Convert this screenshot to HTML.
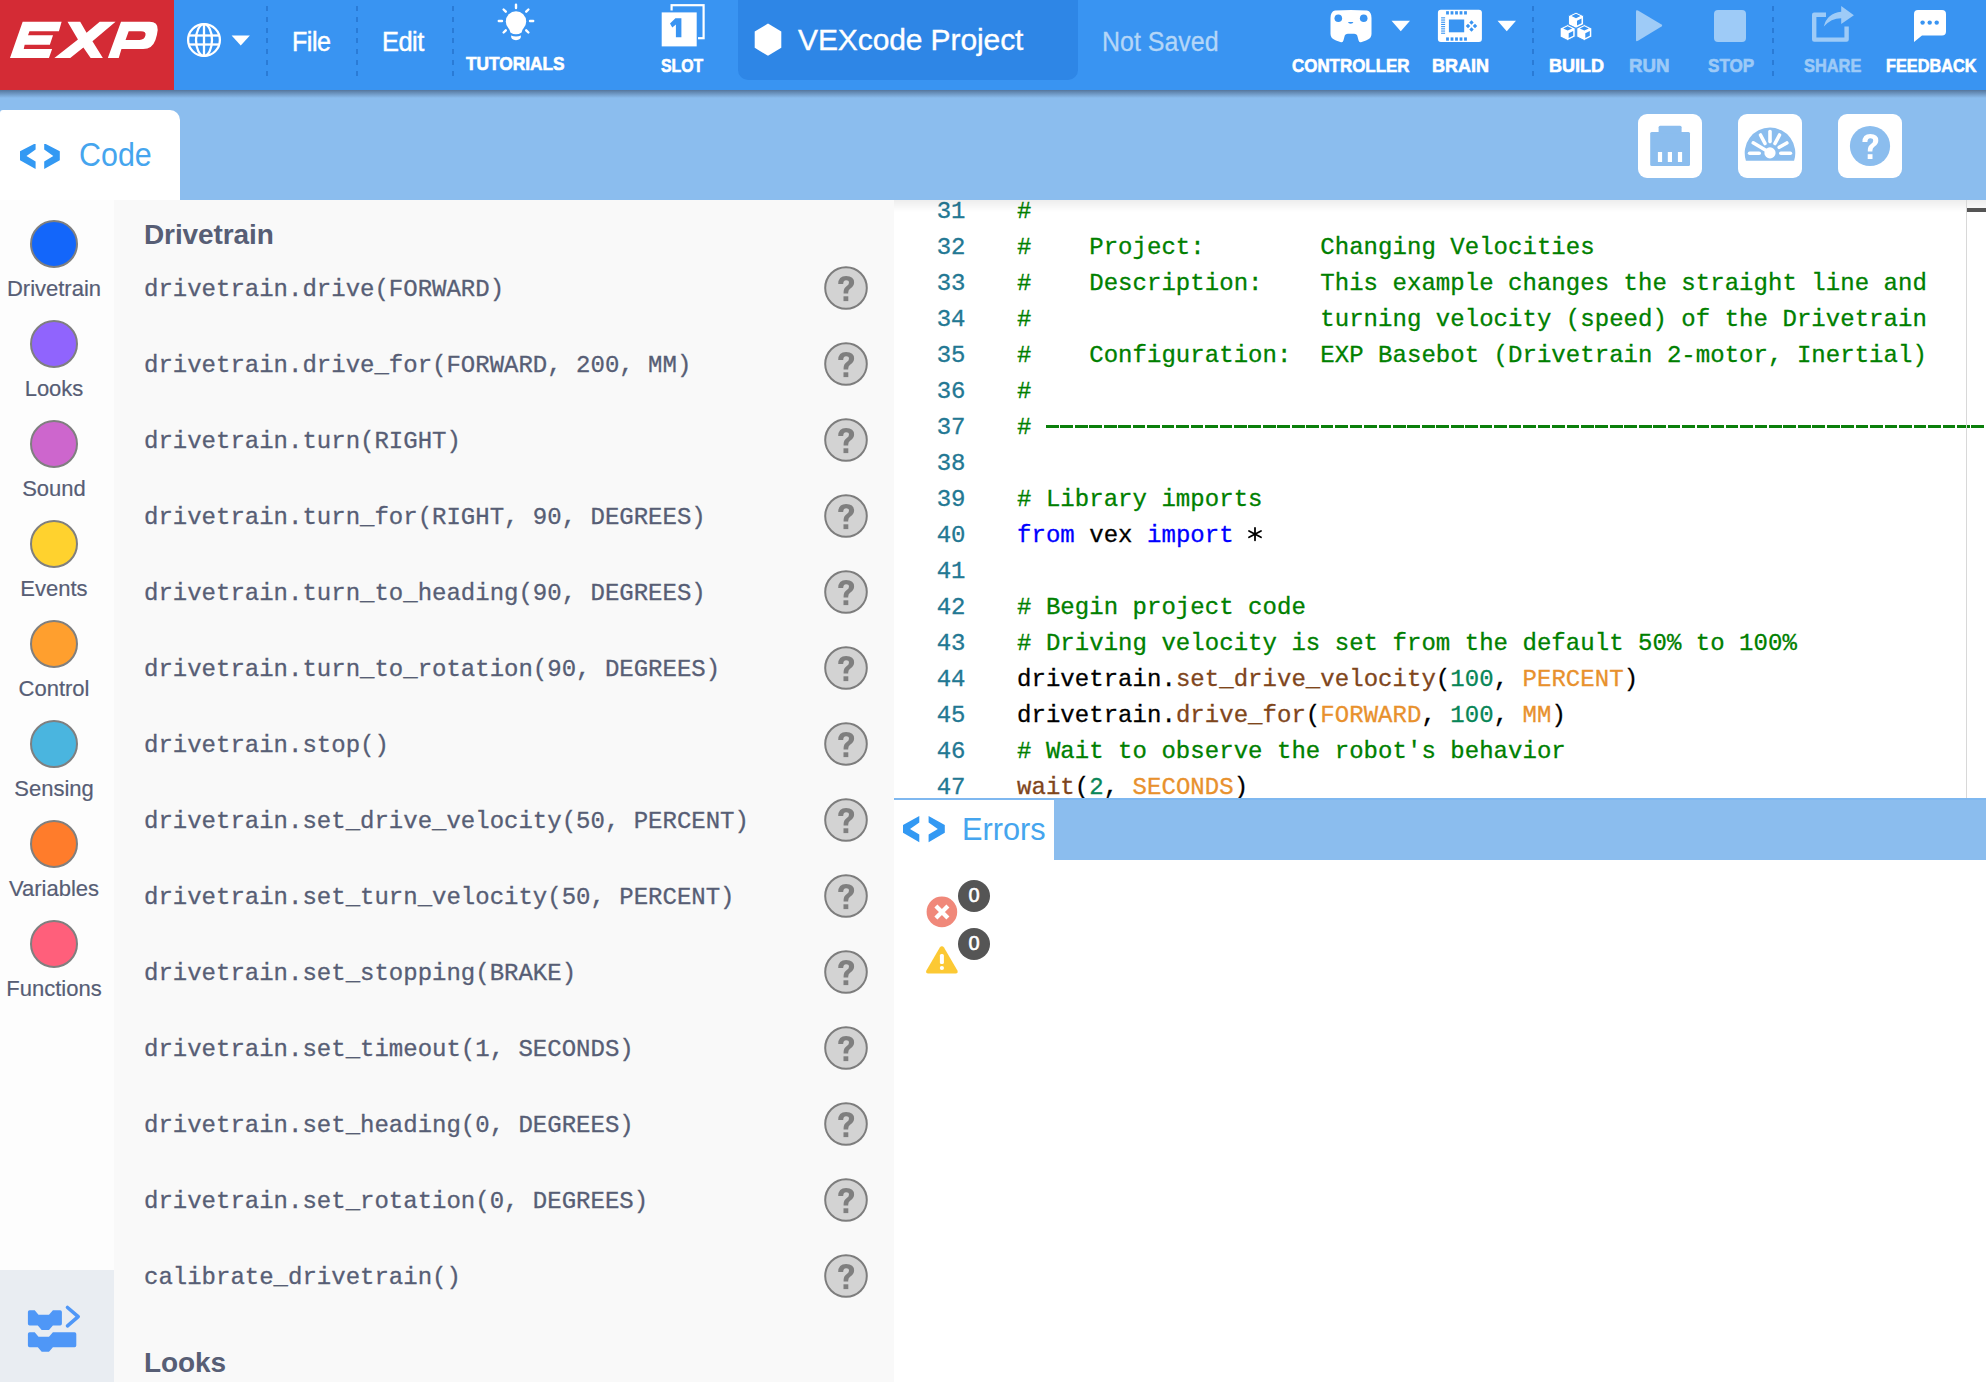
<!DOCTYPE html>
<html><head><meta charset="utf-8">
<style>
*{margin:0;padding:0;box-sizing:border-box}
html,body{width:1986px;height:1382px;overflow:hidden;background:#fff;font-family:"Liberation Sans",sans-serif}
.a{position:absolute}
#top{left:0;top:0;width:1986px;height:90px;background:#3994f2}
#logo{left:0;top:0;width:174px;height:90px;background:#d42b35}
.sep{position:absolute;top:6px;width:2px;height:70px;background:repeating-linear-gradient(to bottom,#2a7bd6 0,#2a7bd6 5px,transparent 5px,transparent 10.8px)}
.lbl{position:absolute;top:54px;font-weight:bold;font-size:18px;color:#fff;white-space:nowrap;line-height:20px;-webkit-text-stroke:0.6px currentColor}
.dim{color:#9dcaf7}
#band{left:0;top:90px;width:1986px;height:110px;background:#8bbdee}
#shadow{left:0;top:90px;width:1986px;height:8px;background:linear-gradient(to bottom,rgba(40,60,90,.55),rgba(40,60,90,0))}
#codetab{left:0;top:110px;width:180px;height:90px;background:#fff;border-radius:3px 10px 0 0}
.sq{position:absolute;top:114px;width:64px;height:64px;background:#fff;border-radius:9px}
#cats{left:0;top:200px;width:114px;height:1070px;background:#fdfdfd}
#toggle{left:0;top:1270px;width:114px;height:112px;background:#e9edf2}
#pal{left:114px;top:200px;width:780px;height:1182px;background:#f9f9f9;overflow:hidden}
.cat{position:absolute;left:0;width:108px;text-align:center;font-size:22px;color:#575e75;-webkit-text-stroke:0.2px currentColor}
.dot{position:absolute;left:30px;width:48px;height:48px;border-radius:50%;border:2px solid #7f7f7f}
.item{position:absolute;left:30px;font-family:"Liberation Mono",monospace;font-size:24px;color:#575e75;white-space:pre;line-height:30px;margin-top:1px;-webkit-text-stroke:0.3px currentColor}
.help{position:absolute;left:710px;width:44px;height:44px;border-radius:50%;background:#d3d3d3;border:2px solid #7d7d7d}
.help span{position:absolute;left:0;top:0;width:40px;text-align:center;font-weight:bold;font-size:30px;line-height:40px;color:#7f7f7f}
.head{position:absolute;left:30px;font-weight:bold;font-size:28px;color:#575e75;letter-spacing:-0.1px}
#ed{left:894px;top:200px;width:1092px;height:598px;background:#fff;overflow:hidden}
.ln{position:absolute;left:0;width:71.5px;text-align:right;font-family:"Liberation Mono",monospace;font-size:24px;line-height:36px;color:#237893;white-space:pre;-webkit-text-stroke:0.3px currentColor}
.cl{position:absolute;left:123px;font-family:"Liberation Mono",monospace;font-size:24px;line-height:36px;color:#000;white-space:pre;letter-spacing:0.04px;-webkit-text-stroke:0.3px currentColor}
.c{color:#008000}.k{color:#0000ff}.f{color:#7f461c}.n{color:#098658}.o{color:#e8912d}
#errs{left:894px;top:798px;width:1092px;height:584px;background:#fff}
</style></head><body>
<div id="top" class="a"></div>
<div id="logo" class="a"></div>

<svg class="a" style="left:0;top:0" width="180" height="90" viewBox="0 0 1986 993">
<path fill="#fff" d="M250,240 L680,240 L650,345 L325,345 L309,390 L585,390 L550,495 L272,495 L262,540 L575,540 L540,640 L110,640 Z"/>
<path fill="#fff" d="M745,240 L885,240 L955,360 L1100,240 L1275,240 L1020,455 L1135,640 L1000,640 L920,525 L775,640 L600,640 L860,435 Z"/>
<path fill="#fff" fill-rule="evenodd" d="M1335,240 L1650,240 Q1745,240 1740,330 Q1735,380 1715,440 Q1680,540 1580,540 L1340,540 L1310,640 L1190,640 Z M1420,345 L1555,345 Q1615,345 1605,390 Q1595,440 1540,440 L1385,440 Z"/>
</svg>
<svg class="a" style="left:185px;top:21px" width="38" height="38" viewBox="0 0 38 38">
<g fill="none" stroke="#fff" stroke-width="2.3">
<circle cx="19" cy="19" r="15.9"/>
<ellipse cx="19" cy="19" rx="8" ry="15.9"/>
<line x1="19" y1="3" x2="19" y2="35"/>
<line x1="3.8" y1="14.5" x2="34.2" y2="14.5"/>
<line x1="3.8" y1="23.5" x2="34.2" y2="23.5"/>
</g></svg>
<svg class="a" style="left:231px;top:34.6px" width="20" height="12" viewBox="0 0 20 12"><path d="M0.6,0.5 L18.9,0.5 L9.75,10.4 Z" fill="#fff"/></svg>
<div class="sep" style="left:266px"></div>
<div class="sep" style="left:356px"></div>
<div class="sep" style="left:452px"></div>
<div class="a" style="left:292px;top:25.5px;font-size:27px;color:#fff;line-height:32px;-webkit-text-stroke:0.45px #fff;letter-spacing:-0.5px;transform:scaleX(0.93);transform-origin:left">File</div>
<div class="a" style="left:382px;top:25.5px;font-size:27px;color:#fff;line-height:32px;-webkit-text-stroke:0.45px #fff;letter-spacing:-0.5px;transform:scaleX(0.94);transform-origin:left">Edit</div>
<svg class="a" style="left:496px;top:2px" width="40" height="42" viewBox="0 0 40 42">
<g fill="#fff">
<circle cx="20" cy="19.5" r="10.2"/>
<path d="M12.3,24 L27.7,24 L25.6,30.5 Q20,34.2 14.4,30.5 Z"/>
<path d="M15,33.6 Q20,35.6 25,33.6 Q25,38.2 20,38.2 Q15,38.2 15,33.6 Z"/>
</g>
<g stroke="#fff" stroke-width="2.4" stroke-linecap="round">
<line x1="20" y1="2.8" x2="20" y2="6"/>
<line x1="2.8" y1="19" x2="6" y2="19"/>
<line x1="34" y1="19" x2="37.2" y2="19"/>
<line x1="7.6" y1="7.5" x2="9.8" y2="9.7"/>
<line x1="32.4" y1="7.5" x2="30.2" y2="9.7"/>
<line x1="7.6" y1="30.5" x2="9.8" y2="28.3"/>
<line x1="32.4" y1="30.5" x2="30.2" y2="28.3"/>
</g></svg>
<div class="lbl" style="left:466px;top:54px;transform:scaleX(0.96);transform-origin:left">TUTORIALS</div>
<svg class="a" style="left:660px;top:3px" width="46" height="45" viewBox="0 0 46 45">
<rect x="11.6" y="2.2" width="32" height="33" fill="none" stroke="#fff" stroke-width="2.2"/>
<rect x="0" y="7.5" width="38" height="39" fill="#3994f2"/>
<rect x="1.7" y="9.4" width="35" height="34" fill="#fff"/>
<path fill="#3994f2" d="M15.4,15.3 L21.4,15.3 L21.4,34.2 L15.9,34.2 L15.9,21.6 L12.3,24.4 L10,20.6 Z"/>
</svg>
<div class="lbl" style="left:661px;top:56px;transform:scaleX(0.88);transform-origin:left">SLOT</div>
<div class="a" style="left:738px;top:0;width:340px;height:80px;background:#2e86e6;border-radius:0 0 10px 10px"></div>
<svg class="a" style="left:754px;top:23px" width="28" height="34" viewBox="0 0 28 34"><path fill="#fff" d="M14,0.6 L27.3,8.6 L27.3,24.8 L14,32.8 L0.7,24.8 L0.7,8.6 Z"/></svg>
<div class="a" style="left:798px;top:21.5px;font-size:30px;color:#fff;line-height:36px;-webkit-text-stroke:0.35px #fff;letter-spacing:-0.1px">VEXcode Project</div>
<div class="a" style="left:1102px;top:26px;font-size:27px;color:#b4d6f8;line-height:32px;-webkit-text-stroke:0.3px #b4d6f8;transform:scaleX(0.925);transform-origin:left">Not Saved</div>

<svg class="a" style="left:1329px;top:9px" width="44" height="35" viewBox="0 0 44 35">
<path fill="#fff" d="M6,1.5 Q22,0.3 38,1.5 Q42.5,2.5 42.5,9 L42.5,25 Q42.5,29.5 37,31.5 L32,33.2 Q30,33.7 29.5,31.2 L28.5,27.5 Q28,24.8 25,24.8 L19,24.8 Q16,24.8 15.5,27.5 L14.5,31.2 Q14,33.7 12,33.2 L7,31.5 Q1.5,29.5 1.5,25 L1.5,9 Q1.5,2.5 6,1.5 Z"/>
<circle cx="9.3" cy="9.3" r="3.8" fill="#3994f2"/>
<circle cx="34.7" cy="9.3" r="3.8" fill="#3994f2"/>
<path d="M19,12.9 L24.4,12.9 Q24,14.7 21.7,14.7 Q19.4,14.7 19,12.9 Z" fill="#3994f2"/>
</svg>
<svg class="a" style="left:1391px;top:20px" width="20" height="12" viewBox="0 0 20 12"><path d="M0.5,0.8 L19,0.8 L9.75,11.2 Z" fill="#fff"/></svg>
<svg class="a" style="left:1437px;top:9px" width="46" height="34" viewBox="0 0 46 34">
<rect x="0.9" y="0.8" width="44" height="32.1" rx="3" fill="#fff"/>
<g fill="#3994f2">
<rect x="11.9" y="10.5" width="15.3" height="12.8"/>
<rect x="9.1" y="2.2" width="2.8" height="3.3"/><rect x="9.1" y="28.4" width="2.8" height="3.3"/><rect x="13.6" y="2.2" width="2.8" height="3.3"/><rect x="13.6" y="28.4" width="2.8" height="3.3"/><rect x="18.1" y="2.2" width="2.8" height="3.3"/><rect x="18.1" y="28.4" width="2.8" height="3.3"/><rect x="22.6" y="2.2" width="2.8" height="3.3"/><rect x="22.6" y="28.4" width="2.8" height="3.3"/><rect x="27.1" y="2.2" width="2.8" height="3.3"/><rect x="27.1" y="28.4" width="2.8" height="3.3"/>
<rect x="4.1" y="8.3" width="4" height="1.1"/><rect x="4.1" y="10.5" width="4" height="1.1"/><rect x="4.1" y="12.7" width="4" height="1.1"/><rect x="4.1" y="14.9" width="4" height="1.1"/><rect x="4.1" y="17.1" width="4" height="1.1"/><rect x="4.1" y="19.3" width="4" height="1.1"/><rect x="4.1" y="21.5" width="4" height="1.1"/><rect x="4.1" y="23.7" width="4" height="1.1"/>
<path d="M34.5,11.3 L36.7,13.5 L34.5,15.7 L32.3,13.5 Z"/><path d="M34.5,18.3 L36.7,20.5 L34.5,22.7 L32.3,20.5 Z"/><path d="M31,14.8 L33.2,17 L31,19.2 L28.8,17 Z"/><path d="M38,14.8 L40.2,17 L38,19.2 L35.8,17 Z"/>
</g>
</svg>
<svg class="a" style="left:1497px;top:20px" width="20" height="12" viewBox="0 0 20 12"><path d="M0.5,0.8 L19,0.8 L9.75,11.2 Z" fill="#fff"/></svg>
<div class="lbl" style="left:1292px;top:56px;transform:scaleX(0.94);transform-origin:left">CONTROLLER</div>
<div class="lbl" style="left:1432px;top:56px;transform:scaleX(1.0);transform-origin:left">BRAIN</div>
<div class="sep" style="left:1532px"></div>
<div class="sep" style="left:1772px"></div>
<svg class="a" style="left:1559px;top:11px" width="34" height="30" viewBox="0 0 34 30">
<g fill="#fff" stroke="#3994f2" stroke-width="0.9" stroke-linejoin="round">
<path d="M9.5,4.8 L17,1.2 L24.5,4.8 L24.5,13.5 L17,17.2 L9.5,13.5 Z"/>
<path d="M1.2,17.2 L8.7,13.6 L16.2,17.2 L16.2,25.8 L8.7,29.5 L1.2,25.8 Z"/>
<path d="M17.8,17.2 L25.3,13.6 L32.8,17.2 L32.8,25.8 L25.3,29.5 L17.8,25.8 Z"/>
</g>
<g fill="#3994f2">
<path d="M12.5,5 L17,2.8 L21.5,5 L17,7.2 Z"/>
<path d="M18,9.8 L22.5,7.5 L22.5,12.3 L18,14.6 Z"/>
<path d="M4.2,17.4 L8.7,15.2 L13.2,17.4 L8.7,19.6 Z"/>
<path d="M9.7,22.2 L14.2,20 L14.2,24.8 L9.7,27 Z"/>
<path d="M20.8,17.4 L25.3,15.2 L29.8,17.4 L25.3,19.6 Z"/>
<path d="M26.3,22.2 L30.8,20 L30.8,24.8 L26.3,27 Z"/>
</g>
</svg>
<div class="lbl" style="left:1549px;top:56px;transform:scaleX(1.0);transform-origin:left">BUILD</div>
<svg class="a" style="left:1635px;top:9px" width="28" height="34" viewBox="0 0 28 34"><path fill="#9ecbf7" d="M1,2.5 Q1,0.5 3,1.6 L26.5,15.5 Q28,16.5 26.5,17.5 L3,31.8 Q1,33 1,31 Z"/></svg>
<div class="lbl dim" style="left:1629px;top:56px;transform:scaleX(1.04);transform-origin:left">RUN</div>
<div class="a" style="left:1714px;top:10px;width:32px;height:32px;background:#9ecbf7;border-radius:4px"></div>
<div class="lbl dim" style="left:1708px;top:56px;transform:scaleX(0.95);transform-origin:left">STOP</div>
<svg class="a" style="left:1810px;top:5px" width="46" height="39" viewBox="0 0 46 39">
<path fill="none" stroke="#9ecbf7" stroke-width="4.4" stroke-linejoin="round" d="M16,9.8 L5.2,9.8 L4.2,9.8 L4.2,34.6 L36.6,34.6 L36.6,21.5"/>
<path fill="#9ecbf7" d="M13.8,21.6 Q17,8.2 31.2,6.8 L31.2,1 L43.9,10.2 L31.2,19 L31.2,13.2 Q21,13.2 13.8,21.6 Z"/>
</svg>
<div class="lbl dim" style="left:1804px;top:56px;transform:scaleX(0.91);transform-origin:left">SHARE</div>
<svg class="a" style="left:1913px;top:9px" width="34" height="34" viewBox="0 0 34 34">
<path fill="#fff" d="M1,5 Q1,1 5,1 L29,1 Q33,1 33,5 L33,22.6 Q33,26.6 29,26.6 L9,26.6 L1,33 Z"/>
<circle cx="9.6" cy="13.6" r="2.2" fill="#3994f2"/><circle cx="16.7" cy="13.6" r="2.2" fill="#3994f2"/><circle cx="23.7" cy="13.6" r="2.2" fill="#3994f2"/>
</svg>
<div class="lbl" style="left:1886px;top:56px;transform:scaleX(0.905);transform-origin:left">FEEDBACK</div>
<div id="band" class="a"></div>
<div id="shadow" class="a"></div>
<div id="codetab" class="a"></div>
<svg class="a" style="left:20px;top:143.7px" width="40" height="26" viewBox="0 0 40 26">
<path fill="#3399f3" d="M0,7.2 L15.6,-0.8 L15.6,5.6 L6.5,12.1 L15.6,17.4 L15.6,25 L0,16.2 Z"/>
<path fill="#3399f3" d="M24.2,-0.8 L39.8,7.2 L39.8,16.2 L24.2,25 L24.2,17.4 L33.3,12.1 L24.2,5.6 Z"/>
</svg>
<div class="a" style="left:79px;top:135px;font-size:34px;line-height:38px;color:#45a5ee;transform:scaleX(0.895);transform-origin:left">Code</div>

<div class="sq" style="left:1638px"></div>
<div class="sq" style="left:1738px"></div>
<div class="sq" style="left:1838px"></div>
<svg class="a" style="left:1638px;top:114px" width="64" height="64" viewBox="0 0 64 64">
<rect x="12.2" y="18" width="39.8" height="34" rx="1.5" fill="#8bbdee"/>
<rect x="20.6" y="11.8" width="23" height="8" rx="1.5" fill="#8bbdee"/>
<rect x="19.9" y="38" width="4.2" height="10" fill="#fff"/>
<rect x="29.8" y="38" width="4.2" height="10" fill="#fff"/>
<rect x="39.9" y="38" width="4.2" height="10" fill="#fff"/>
</svg>
<svg class="a" style="left:1738px;top:114px" width="64" height="64" viewBox="0 0 64 64">
<path fill="#8bbdee" d="M7.93,46.7 A25.3,25.3 0 1 1 56.07,46.7 Z"/>
<g stroke="#fff" stroke-width="3.6" stroke-linecap="round">
<line x1="11.6" y1="39.2" x2="21.2" y2="39.2"/>
<line x1="42.8" y1="39.2" x2="52.4" y2="39.2"/>
<line x1="32" y1="17.6" x2="32" y2="27.6"/>
<line x1="22.5" y1="21" x2="27" y2="29.5"/>
<line x1="41.5" y1="21" x2="37" y2="29.5"/>
<line x1="48.8" y1="29" x2="41.2" y2="33.3"/>
<line x1="15.2" y1="28.8" x2="32" y2="38.8"/>
</g>
<circle cx="32" cy="38.9" r="5.6" fill="#fff"/>
</svg>
<svg class="a" style="left:1838px;top:114px" width="64" height="64" viewBox="0 0 64 64">
<circle cx="32" cy="32" r="20.1" fill="#8bbdee"/>
<path fill="#fff" d="M24.4,28 Q24.4,19.9 32.3,19.9 Q40.3,19.9 40.3,26.5 Q40.3,30.2 36.6,32.5 Q34.4,34 34.4,36.5 L34.4,37.4 L29.8,37.4 L29.8,36 Q29.8,32.2 33,30 Q35.3,28.5 35.2,26.5 Q35.1,24.2 32.3,24.2 Q29.4,24.3 29.4,28 Z"/>
<rect x="29.7" y="40.2" width="4.8" height="4.8" fill="#fff"/>
</svg>

<div id="cats" class="a"></div>
<div class="dot" style="top:220px;background:#1366fa"></div>
<div class="cat" style="top:275.9px;line-height:26px">Drivetrain</div>
<div class="dot" style="top:320px;background:#9064fd"></div>
<div class="cat" style="top:375.9px;line-height:26px">Looks</div>
<div class="dot" style="top:420px;background:#cd66cd"></div>
<div class="cat" style="top:475.9px;line-height:26px">Sound</div>
<div class="dot" style="top:520px;background:#ffd22e"></div>
<div class="cat" style="top:575.9px;line-height:26px">Events</div>
<div class="dot" style="top:620px;background:#ff9f2e"></div>
<div class="cat" style="top:675.9px;line-height:26px">Control</div>
<div class="dot" style="top:720px;background:#4ab5df"></div>
<div class="cat" style="top:775.9px;line-height:26px">Sensing</div>
<div class="dot" style="top:820px;background:#ff7c2b"></div>
<div class="cat" style="top:875.9px;line-height:26px">Variables</div>
<div class="dot" style="top:920px;background:#ff5f7b"></div>
<div class="cat" style="top:975.9px;line-height:26px">Functions</div>
<div id="toggle" class="a"></div>
<svg class="a" style="left:26px;top:1304px" width="58" height="50" viewBox="0 0 58 50">
<path fill="#4f97f7" d="M1.9,8 Q1.9,6.3 3.6,6.3 L8.7,6.3 L12.5,10.8 L23,10.8 L26.9,6.3 L34.2,6.3 Q35.9,6.3 35.9,8 L35.9,19.7 Q35.9,21.4 34.2,21.4 L26.9,21.4 L23,25.9 L15.7,25.9 L11.8,21.4 L3.6,21.4 Q1.9,21.4 1.9,19.7 Z"/>
<path fill="#4f97f7" d="M1.9,29.9 Q1.9,28.2 3.6,28.2 L8.7,28.2 L12.5,32.7 L23,32.7 L26.9,28.2 L48.6,28.2 Q50.3,28.2 50.3,29.9 L50.3,41.6 Q50.3,43.3 48.6,43.3 L26.9,43.3 L23,47.8 L15.7,47.8 L11.8,43.3 L3.6,43.3 Q1.9,43.3 1.9,41.6 Z"/>
<path fill="none" stroke="#4f97f7" stroke-width="3.6" stroke-linecap="round" stroke-linejoin="round" d="M41.5,3.5 L52.2,12.65 L41.5,21.8"/>
</svg>
<div id="pal" class="a">
<div class="head" style="top:18.65px;line-height:32px">Drivetrain</div>
<div class="item" style="top:74.3px">drivetrain.drive(FORWARD)</div>
<svg class="a" style="left:710px;top:66px" width="44" height="44" viewBox="0 0 44 44"><circle cx="22" cy="22" r="20.8" fill="#d3d3d3" stroke="#7d7d7d" stroke-width="2"/><g transform="translate(-10.2,-9.9)" fill="#7f7f7f"><path d="M24.4,28 Q24.4,19.9 32.3,19.9 Q40.3,19.9 40.3,26.5 Q40.3,30.2 36.6,32.5 Q34.4,34 34.4,36.5 L34.4,37.4 L29.8,37.4 L29.8,36 Q29.8,32.2 33,30 Q35.3,28.5 35.2,26.5 Q35.1,24.2 32.3,24.2 Q29.4,24.3 29.4,28 Z"/><rect x="29.7" y="40.2" width="4.8" height="4.8"/></g></svg>
<div class="item" style="top:150.3px">drivetrain.drive_for(FORWARD, 200, MM)</div>
<svg class="a" style="left:710px;top:142px" width="44" height="44" viewBox="0 0 44 44"><circle cx="22" cy="22" r="20.8" fill="#d3d3d3" stroke="#7d7d7d" stroke-width="2"/><g transform="translate(-10.2,-9.9)" fill="#7f7f7f"><path d="M24.4,28 Q24.4,19.9 32.3,19.9 Q40.3,19.9 40.3,26.5 Q40.3,30.2 36.6,32.5 Q34.4,34 34.4,36.5 L34.4,37.4 L29.8,37.4 L29.8,36 Q29.8,32.2 33,30 Q35.3,28.5 35.2,26.5 Q35.1,24.2 32.3,24.2 Q29.4,24.3 29.4,28 Z"/><rect x="29.7" y="40.2" width="4.8" height="4.8"/></g></svg>
<div class="item" style="top:226.3px">drivetrain.turn(RIGHT)</div>
<svg class="a" style="left:710px;top:218px" width="44" height="44" viewBox="0 0 44 44"><circle cx="22" cy="22" r="20.8" fill="#d3d3d3" stroke="#7d7d7d" stroke-width="2"/><g transform="translate(-10.2,-9.9)" fill="#7f7f7f"><path d="M24.4,28 Q24.4,19.9 32.3,19.9 Q40.3,19.9 40.3,26.5 Q40.3,30.2 36.6,32.5 Q34.4,34 34.4,36.5 L34.4,37.4 L29.8,37.4 L29.8,36 Q29.8,32.2 33,30 Q35.3,28.5 35.2,26.5 Q35.1,24.2 32.3,24.2 Q29.4,24.3 29.4,28 Z"/><rect x="29.7" y="40.2" width="4.8" height="4.8"/></g></svg>
<div class="item" style="top:302.3px">drivetrain.turn_for(RIGHT, 90, DEGREES)</div>
<svg class="a" style="left:710px;top:294px" width="44" height="44" viewBox="0 0 44 44"><circle cx="22" cy="22" r="20.8" fill="#d3d3d3" stroke="#7d7d7d" stroke-width="2"/><g transform="translate(-10.2,-9.9)" fill="#7f7f7f"><path d="M24.4,28 Q24.4,19.9 32.3,19.9 Q40.3,19.9 40.3,26.5 Q40.3,30.2 36.6,32.5 Q34.4,34 34.4,36.5 L34.4,37.4 L29.8,37.4 L29.8,36 Q29.8,32.2 33,30 Q35.3,28.5 35.2,26.5 Q35.1,24.2 32.3,24.2 Q29.4,24.3 29.4,28 Z"/><rect x="29.7" y="40.2" width="4.8" height="4.8"/></g></svg>
<div class="item" style="top:378.3px">drivetrain.turn_to_heading(90, DEGREES)</div>
<svg class="a" style="left:710px;top:370px" width="44" height="44" viewBox="0 0 44 44"><circle cx="22" cy="22" r="20.8" fill="#d3d3d3" stroke="#7d7d7d" stroke-width="2"/><g transform="translate(-10.2,-9.9)" fill="#7f7f7f"><path d="M24.4,28 Q24.4,19.9 32.3,19.9 Q40.3,19.9 40.3,26.5 Q40.3,30.2 36.6,32.5 Q34.4,34 34.4,36.5 L34.4,37.4 L29.8,37.4 L29.8,36 Q29.8,32.2 33,30 Q35.3,28.5 35.2,26.5 Q35.1,24.2 32.3,24.2 Q29.4,24.3 29.4,28 Z"/><rect x="29.7" y="40.2" width="4.8" height="4.8"/></g></svg>
<div class="item" style="top:454.3px">drivetrain.turn_to_rotation(90, DEGREES)</div>
<svg class="a" style="left:710px;top:446px" width="44" height="44" viewBox="0 0 44 44"><circle cx="22" cy="22" r="20.8" fill="#d3d3d3" stroke="#7d7d7d" stroke-width="2"/><g transform="translate(-10.2,-9.9)" fill="#7f7f7f"><path d="M24.4,28 Q24.4,19.9 32.3,19.9 Q40.3,19.9 40.3,26.5 Q40.3,30.2 36.6,32.5 Q34.4,34 34.4,36.5 L34.4,37.4 L29.8,37.4 L29.8,36 Q29.8,32.2 33,30 Q35.3,28.5 35.2,26.5 Q35.1,24.2 32.3,24.2 Q29.4,24.3 29.4,28 Z"/><rect x="29.7" y="40.2" width="4.8" height="4.8"/></g></svg>
<div class="item" style="top:530.3px">drivetrain.stop()</div>
<svg class="a" style="left:710px;top:522px" width="44" height="44" viewBox="0 0 44 44"><circle cx="22" cy="22" r="20.8" fill="#d3d3d3" stroke="#7d7d7d" stroke-width="2"/><g transform="translate(-10.2,-9.9)" fill="#7f7f7f"><path d="M24.4,28 Q24.4,19.9 32.3,19.9 Q40.3,19.9 40.3,26.5 Q40.3,30.2 36.6,32.5 Q34.4,34 34.4,36.5 L34.4,37.4 L29.8,37.4 L29.8,36 Q29.8,32.2 33,30 Q35.3,28.5 35.2,26.5 Q35.1,24.2 32.3,24.2 Q29.4,24.3 29.4,28 Z"/><rect x="29.7" y="40.2" width="4.8" height="4.8"/></g></svg>
<div class="item" style="top:606.3px">drivetrain.set_drive_velocity(50, PERCENT)</div>
<svg class="a" style="left:710px;top:598px" width="44" height="44" viewBox="0 0 44 44"><circle cx="22" cy="22" r="20.8" fill="#d3d3d3" stroke="#7d7d7d" stroke-width="2"/><g transform="translate(-10.2,-9.9)" fill="#7f7f7f"><path d="M24.4,28 Q24.4,19.9 32.3,19.9 Q40.3,19.9 40.3,26.5 Q40.3,30.2 36.6,32.5 Q34.4,34 34.4,36.5 L34.4,37.4 L29.8,37.4 L29.8,36 Q29.8,32.2 33,30 Q35.3,28.5 35.2,26.5 Q35.1,24.2 32.3,24.2 Q29.4,24.3 29.4,28 Z"/><rect x="29.7" y="40.2" width="4.8" height="4.8"/></g></svg>
<div class="item" style="top:682.3px">drivetrain.set_turn_velocity(50, PERCENT)</div>
<svg class="a" style="left:710px;top:674px" width="44" height="44" viewBox="0 0 44 44"><circle cx="22" cy="22" r="20.8" fill="#d3d3d3" stroke="#7d7d7d" stroke-width="2"/><g transform="translate(-10.2,-9.9)" fill="#7f7f7f"><path d="M24.4,28 Q24.4,19.9 32.3,19.9 Q40.3,19.9 40.3,26.5 Q40.3,30.2 36.6,32.5 Q34.4,34 34.4,36.5 L34.4,37.4 L29.8,37.4 L29.8,36 Q29.8,32.2 33,30 Q35.3,28.5 35.2,26.5 Q35.1,24.2 32.3,24.2 Q29.4,24.3 29.4,28 Z"/><rect x="29.7" y="40.2" width="4.8" height="4.8"/></g></svg>
<div class="item" style="top:758.3px">drivetrain.set_stopping(BRAKE)</div>
<svg class="a" style="left:710px;top:750px" width="44" height="44" viewBox="0 0 44 44"><circle cx="22" cy="22" r="20.8" fill="#d3d3d3" stroke="#7d7d7d" stroke-width="2"/><g transform="translate(-10.2,-9.9)" fill="#7f7f7f"><path d="M24.4,28 Q24.4,19.9 32.3,19.9 Q40.3,19.9 40.3,26.5 Q40.3,30.2 36.6,32.5 Q34.4,34 34.4,36.5 L34.4,37.4 L29.8,37.4 L29.8,36 Q29.8,32.2 33,30 Q35.3,28.5 35.2,26.5 Q35.1,24.2 32.3,24.2 Q29.4,24.3 29.4,28 Z"/><rect x="29.7" y="40.2" width="4.8" height="4.8"/></g></svg>
<div class="item" style="top:834.3px">drivetrain.set_timeout(1, SECONDS)</div>
<svg class="a" style="left:710px;top:826px" width="44" height="44" viewBox="0 0 44 44"><circle cx="22" cy="22" r="20.8" fill="#d3d3d3" stroke="#7d7d7d" stroke-width="2"/><g transform="translate(-10.2,-9.9)" fill="#7f7f7f"><path d="M24.4,28 Q24.4,19.9 32.3,19.9 Q40.3,19.9 40.3,26.5 Q40.3,30.2 36.6,32.5 Q34.4,34 34.4,36.5 L34.4,37.4 L29.8,37.4 L29.8,36 Q29.8,32.2 33,30 Q35.3,28.5 35.2,26.5 Q35.1,24.2 32.3,24.2 Q29.4,24.3 29.4,28 Z"/><rect x="29.7" y="40.2" width="4.8" height="4.8"/></g></svg>
<div class="item" style="top:910.3px">drivetrain.set_heading(0, DEGREES)</div>
<svg class="a" style="left:710px;top:902px" width="44" height="44" viewBox="0 0 44 44"><circle cx="22" cy="22" r="20.8" fill="#d3d3d3" stroke="#7d7d7d" stroke-width="2"/><g transform="translate(-10.2,-9.9)" fill="#7f7f7f"><path d="M24.4,28 Q24.4,19.9 32.3,19.9 Q40.3,19.9 40.3,26.5 Q40.3,30.2 36.6,32.5 Q34.4,34 34.4,36.5 L34.4,37.4 L29.8,37.4 L29.8,36 Q29.8,32.2 33,30 Q35.3,28.5 35.2,26.5 Q35.1,24.2 32.3,24.2 Q29.4,24.3 29.4,28 Z"/><rect x="29.7" y="40.2" width="4.8" height="4.8"/></g></svg>
<div class="item" style="top:986.3px">drivetrain.set_rotation(0, DEGREES)</div>
<svg class="a" style="left:710px;top:978px" width="44" height="44" viewBox="0 0 44 44"><circle cx="22" cy="22" r="20.8" fill="#d3d3d3" stroke="#7d7d7d" stroke-width="2"/><g transform="translate(-10.2,-9.9)" fill="#7f7f7f"><path d="M24.4,28 Q24.4,19.9 32.3,19.9 Q40.3,19.9 40.3,26.5 Q40.3,30.2 36.6,32.5 Q34.4,34 34.4,36.5 L34.4,37.4 L29.8,37.4 L29.8,36 Q29.8,32.2 33,30 Q35.3,28.5 35.2,26.5 Q35.1,24.2 32.3,24.2 Q29.4,24.3 29.4,28 Z"/><rect x="29.7" y="40.2" width="4.8" height="4.8"/></g></svg>
<div class="item" style="top:1062.3px">calibrate_drivetrain()</div>
<svg class="a" style="left:710px;top:1054px" width="44" height="44" viewBox="0 0 44 44"><circle cx="22" cy="22" r="20.8" fill="#d3d3d3" stroke="#7d7d7d" stroke-width="2"/><g transform="translate(-10.2,-9.9)" fill="#7f7f7f"><path d="M24.4,28 Q24.4,19.9 32.3,19.9 Q40.3,19.9 40.3,26.5 Q40.3,30.2 36.6,32.5 Q34.4,34 34.4,36.5 L34.4,37.4 L29.8,37.4 L29.8,36 Q29.8,32.2 33,30 Q35.3,28.5 35.2,26.5 Q35.1,24.2 32.3,24.2 Q29.4,24.3 29.4,28 Z"/><rect x="29.7" y="40.2" width="4.8" height="4.8"/></g></svg>
<div class="head" style="top:1146.9px;line-height:32px">Looks</div>
</div>
<div id="ed" class="a">
<div class="ln" style="top:-6.4px">31</div>
<div class="cl" style="top:-6.4px"><span class="c">#</span></div>
<div class="ln" style="top:29.6px">32</div>
<div class="cl" style="top:29.6px"><span class="c">#    Project:        Changing Velocities</span></div>
<div class="ln" style="top:65.6px">33</div>
<div class="cl" style="top:65.6px"><span class="c">#    Description:    This example changes the straight line and</span></div>
<div class="ln" style="top:101.6px">34</div>
<div class="cl" style="top:101.6px"><span class="c">#                    turning velocity (speed) of the Drivetrain</span></div>
<div class="ln" style="top:137.6px">35</div>
<div class="cl" style="top:137.6px"><span class="c">#    Configuration:  EXP Basebot (Drivetrain 2-motor, Inertial)</span></div>
<div class="ln" style="top:173.6px">36</div>
<div class="cl" style="top:173.6px"><span class="c">#</span></div>
<div class="ln" style="top:209.6px">37</div>
<div class="cl" style="top:209.6px"><span class="c">#</span></div><div class="a" style="left:152px;top:225.2px;width:940px;height:2.6px;background:repeating-linear-gradient(to right,#0b7f0b 0,#0b7f0b 12.7px,transparent 12.7px,transparent 14.46px)"></div>
<div class="ln" style="top:245.6px">38</div>
<div class="cl" style="top:245.6px"></div>
<div class="ln" style="top:281.6px">39</div>
<div class="cl" style="top:281.6px"><span class="c"># Library imports</span></div>
<div class="ln" style="top:317.6px">40</div>
<div class="cl" style="top:317.6px"><span class="k">from</span> vex <span class="k">import</span> </div>
<div class="ln" style="top:353.6px">41</div>
<div class="cl" style="top:353.6px"></div>
<div class="ln" style="top:389.6px">42</div>
<div class="cl" style="top:389.6px"><span class="c"># Begin project code</span></div>
<div class="ln" style="top:425.6px">43</div>
<div class="cl" style="top:425.6px"><span class="c"># Driving velocity is set from the default 50% to 100%</span></div>
<div class="ln" style="top:461.6px">44</div>
<div class="cl" style="top:461.6px">drivetrain.<span class="f">set_drive_velocity</span>(<span class="n">100</span>, <span class="o">PERCENT</span>)</div>
<div class="ln" style="top:497.6px">45</div>
<div class="cl" style="top:497.6px">drivetrain.<span class="f">drive_for</span>(<span class="o">FORWARD</span>, <span class="n">100</span>, <span class="o">MM</span>)</div>
<div class="ln" style="top:533.6px">46</div>
<div class="cl" style="top:533.6px"><span class="c"># Wait to observe the robot's behavior</span></div>
<div class="ln" style="top:569.6px">47</div>
<div class="cl" style="top:569.6px"><span class="f">wait</span>(<span class="n">2</span>, <span class="o">SECONDS</span>)</div>
<svg class="a" style="left:352.5px;top:326.4px" width="16" height="16" viewBox="0 0 16 16"><g stroke="#000" stroke-width="1.8" stroke-linecap="round"><line x1="8" y1="2" x2="8" y2="14.3"/><line x1="2" y1="5" x2="14" y2="11.3"/><line x1="2" y1="11.3" x2="14" y2="5"/></g></svg>
<div class="a" style="left:0;top:0;width:1092px;height:12px;background:linear-gradient(to bottom,rgba(0,0,0,.07),rgba(0,0,0,0))"></div>
<div class="a" style="left:1072px;top:0;width:1px;height:598px;background:#d8d8d8"></div>
<div class="a" style="left:1073px;top:8px;width:19px;height:4px;background:#555"></div>
</div>
<div id="errs" class="a">

<div class="a" style="left:0;top:0;width:1092px;height:2px;background:#7fb8f0"></div>
<div class="a" style="left:160px;top:2px;width:932px;height:60px;background:#8bbdee"></div>
<svg class="a" style="left:9px;top:18px" width="44" height="27" viewBox="0 0 44 27">
<path fill="#3399f3" d="M0,9 L16.3,0 L16.3,6.6 L7,12.9 L16.3,18.4 L16.3,26.3 L0,16.8 Z"/>
<path fill="#3399f3" d="M34.8,0 L51,9 L51,16.8 L34.8,26.3 L34.8,18.4 L44,12.9 L34.8,6.6 Z" transform="translate(-9.2,0)"/>
</svg>
<div class="a" style="left:68px;top:13.5px;font-size:31px;line-height:36px;color:#45a5ee;transform:scaleX(0.99);transform-origin:left">Errors</div>
<svg class="a" style="left:26px;top:80px" width="80" height="100" viewBox="0 0 80 100">
<circle cx="21.9" cy="33.9" r="15.3" fill="#f0887a"/>
<path d="M15.9,27.9 L27.9,39.9 M27.9,27.9 L15.9,39.9" stroke="#fff" stroke-width="4.3"/>
<circle cx="54" cy="18" r="16" fill="#555"/>
<circle cx="54" cy="66" r="16" fill="#555"/>
<g transform="translate(0,2)"><path fill="#fcc934" d="M21.9,66.2 Q23.1,66.2 24,67.6 L37.4,90.6 Q38.5,93.5 35.6,93.5 L8.2,93.5 Q5.3,93.5 6.4,90.6 L19.8,67.6 Q20.7,66.2 21.9,66.2 Z"/>
<rect x="19.9" y="74" width="4" height="10" rx="1.5" fill="#fff"/>
<circle cx="21.9" cy="88" r="2.1" fill="#fff"/></g>
</svg>
<div class="a" style="left:64px;top:85px;width:32px;text-align:center;font-size:20px;line-height:24px;color:#fff;-webkit-text-stroke:0.6px #fff">0</div>
<div class="a" style="left:64px;top:133px;width:32px;text-align:center;font-size:20px;line-height:24px;color:#fff;-webkit-text-stroke:0.6px #fff">0</div>

</div>
</body></html>
